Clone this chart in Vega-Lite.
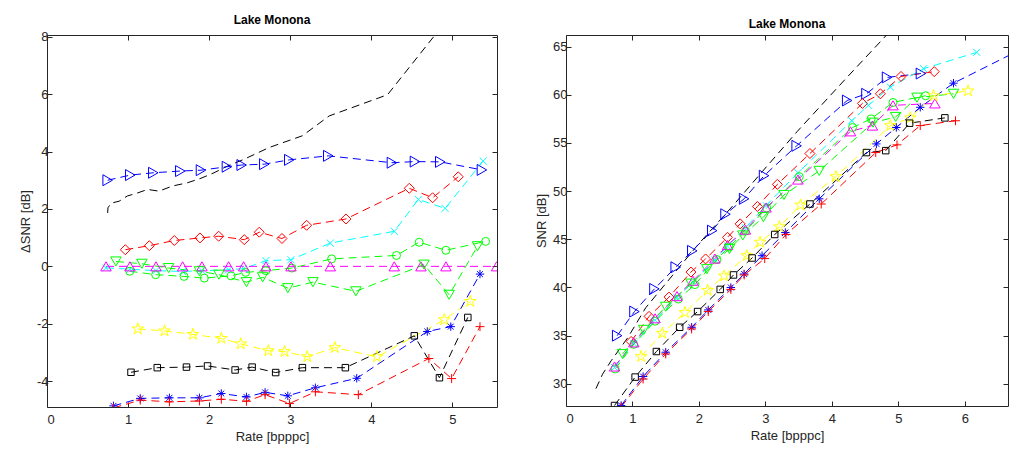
{
"$schema":"https://vega.github.io/schema/vega-lite/v6.json",
"padding":{"left":18,"top":13,"right":0,"bottom":0},
"spacing":37,
"config":{"view":{"stroke":"#262626","strokeWidth":1},
 "font":"Liberation Sans",
 "title":{"fontSize":12,"fontWeight":"bold","font":"Liberation Sans","color":"#000000","offset":0},
 "axis":{"grid":false,"domain":false,"labelFont":"Liberation Sans","titleFont":"Liberation Sans","labelFontSize":13,"titleFontSize":13,"titleFontWeight":"normal","labelColor":"#262626","titleColor":"#262626","tickColor":"#262626","tickSize":-5,"labelPadding":4},
 "axisX":{"labelPadding":11}},
"datasets":{
"dsnr":[
{"s":"k","x":0.748,"y":1.86},{"s":"k","x":0.752,"y":2.04},{"s":"k","x":0.79,"y":2.2},{"s":"k","x":0.89,"y":2.27},{"s":"k","x":0.99,"y":2.45},{"s":"k","x":1.12,"y":2.56},{"s":"k","x":1.24,"y":2.68},{"s":"k","x":1.38,"y":2.62},{"s":"k","x":1.55,"y":2.8},{"s":"k","x":1.73,"y":2.91},{"s":"k","x":1.9,"y":3.07},{"s":"k","x":2.06,"y":3.26},{"s":"k","x":2.23,"y":3.5},{"s":"k","x":2.43,"y":3.73},{"s":"k","x":2.74,"y":4.14},{"s":"k","x":3.15,"y":4.55},{"s":"k","x":3.48,"y":5.24},{"s":"k","x":4.2,"y":5.98},{"s":"k","x":4.78,"y":8.04},{"s":"k","x":5.0,"y":9.0},
{"s":"bT","x":0.748,"y":3.0},{"s":"bT","x":1.027,"y":3.18},{"s":"bT","x":1.311,"y":3.26},{"s":"bT","x":1.644,"y":3.32},{"s":"bT","x":1.899,"y":3.35},{"s":"bT","x":2.219,"y":3.47},{"s":"bT","x":2.401,"y":3.53},{"s":"bT","x":2.68,"y":3.56},{"s":"bT","x":2.988,"y":3.71},{"s":"bT","x":3.469,"y":3.85},{"s":"bT","x":4.254,"y":3.61},{"s":"bT","x":4.538,"y":3.65},{"s":"bT","x":4.85,"y":3.64},{"s":"bT","x":5.364,"y":3.36},
{"s":"rD","x":0.966,"y":0.58},{"s":"rD","x":1.262,"y":0.72},{"s":"rD","x":1.57,"y":0.9},{"s":"rD","x":1.887,"y":0.99},{"s":"rD","x":2.117,"y":1.05},{"s":"rD","x":2.433,"y":0.93},{"s":"rD","x":2.618,"y":1.19},{"s":"rD","x":2.898,"y":0.97},{"s":"rD","x":3.202,"y":1.43},{"s":"rD","x":3.687,"y":1.65},{"s":"rD","x":4.468,"y":2.72},{"s":"rD","x":4.756,"y":2.39},{"s":"rD","x":5.072,"y":3.12},
{"s":"cX","x":0.728,"y":-0.05},{"s":"cX","x":1.023,"y":-0.1},{"s":"cX","x":1.344,"y":-0.15},{"s":"cX","x":1.673,"y":-0.18},{"s":"cX","x":1.911,"y":-0.15},{"s":"cX","x":2.24,"y":-0.12},{"s":"cX","x":2.425,"y":-0.08},{"s":"cX","x":2.7,"y":0.2},{"s":"cX","x":3.009,"y":0.23},{"s":"cX","x":3.494,"y":0.81},{"s":"cX","x":4.283,"y":1.22},{"s":"cX","x":4.58,"y":2.33},{"s":"cX","x":4.91,"y":2.02},{"s":"cX","x":5.38,"y":3.67},
{"s":"gO","x":1.02,"y":-0.17},{"s":"gO","x":1.34,"y":-0.29},{"s":"gO","x":1.69,"y":-0.35},{"s":"gO","x":1.94,"y":-0.41},{"s":"gO","x":2.27,"y":-0.33},{"s":"gO","x":2.45,"y":-0.21},{"s":"gO","x":2.7,"y":-0.15},{"s":"gO","x":3.02,"y":-0.06},{"s":"gO","x":3.51,"y":0.26},{"s":"gO","x":4.31,"y":0.38},{"s":"gO","x":4.59,"y":0.84},{"s":"gO","x":4.92,"y":0.56},{"s":"gO","x":5.41,"y":0.87},
{"s":"mT","x":0.728,"y":0},{"s":"mT","x":1.023,"y":0},{"s":"mT","x":1.344,"y":0},{"s":"mT","x":1.673,"y":0},{"s":"mT","x":1.911,"y":0},{"s":"mT","x":2.24,"y":0},{"s":"mT","x":2.425,"y":0},{"s":"mT","x":2.7,"y":0},{"s":"mT","x":3.009,"y":0},{"s":"mT","x":3.494,"y":0},{"s":"mT","x":4.283,"y":0},{"s":"mT","x":4.612,"y":0},{"s":"mT","x":4.92,"y":0},{"s":"mT","x":5.545,"y":0},
{"s":"gV","x":0.85,"y":0.17},{"s":"gV","x":1.17,"y":0.09},{"s":"gV","x":1.5,"y":-0.06},{"s":"gV","x":1.88,"y":-0.17},{"s":"gV","x":2.12,"y":-0.29},{"s":"gV","x":2.46,"y":-0.55},{"s":"gV","x":2.66,"y":-0.38},{"s":"gV","x":2.97,"y":-0.76},{"s":"gV","x":3.28,"y":-0.55},{"s":"gV","x":3.81,"y":-0.87},{"s":"gV","x":4.65,"y":0.06},{"s":"gV","x":4.96,"y":-0.99},{"s":"gV","x":5.31,"y":0.7},
{"s":"yS","x":1.12,"y":-2.18},{"s":"yS","x":1.45,"y":-2.25},{"s":"yS","x":1.8,"y":-2.37},{"s":"yS","x":2.15,"y":-2.51},{"s":"yS","x":2.39,"y":-2.7},{"s":"yS","x":2.73,"y":-2.94},{"s":"yS","x":2.93,"y":-2.97},{"s":"yS","x":3.21,"y":-3.15},{"s":"yS","x":3.55,"y":-2.83},{"s":"yS","x":4.07,"y":-3.15},{"s":"yS","x":4.9,"y":-1.86},{"s":"yS","x":5.22,"y":-1.22},
{"s":"kS","x":1.036,"y":-3.69},{"s":"kS","x":1.36,"y":-3.53},{"s":"kS","x":1.72,"y":-3.51},{"s":"kS","x":1.98,"y":-3.47},{"s":"kS","x":2.32,"y":-3.61},{"s":"kS","x":2.53,"y":-3.51},{"s":"kS","x":2.82,"y":-3.7},{"s":"kS","x":3.15,"y":-3.53},{"s":"kS","x":3.68,"y":-3.53},{"s":"kS","x":4.53,"y":-2.42},{"s":"kS","x":4.84,"y":-3.88},{"s":"kS","x":5.19,"y":-1.78},
{"s":"bA","x":0.82,"y":-4.86},{"s":"bA","x":1.15,"y":-4.6},{"s":"bA","x":1.51,"y":-4.58},{"s":"bA","x":1.88,"y":-4.58},{"s":"bA","x":2.15,"y":-4.43},{"s":"bA","x":2.46,"y":-4.55},{"s":"bA","x":2.69,"y":-4.39},{"s":"bA","x":2.97,"y":-4.51},{"s":"bA","x":3.31,"y":-4.23},{"s":"bA","x":3.82,"y":-3.9},{"s":"bA","x":4.69,"y":-2.27},{"s":"bA","x":4.98,"y":-2.1},{"s":"bA","x":5.34,"y":-0.27},
{"s":"rP","x":0.82,"y":-4.93},{"s":"rP","x":1.15,"y":-4.66},{"s":"rP","x":1.51,"y":-4.72},{"s":"rP","x":1.88,"y":-4.69},{"s":"rP","x":2.15,"y":-4.63},{"s":"rP","x":2.46,"y":-4.7},{"s":"rP","x":2.69,"y":-4.47},{"s":"rP","x":2.99,"y":-4.78},{"s":"rP","x":3.31,"y":-4.37},{"s":"rP","x":3.84,"y":-4.47},{"s":"rP","x":4.71,"y":-3.21},{"s":"rP","x":4.99,"y":-3.91},{"s":"rP","x":5.34,"y":-2.1}
],
"snr":[
{"s":"k","x":0.45,"y":29.5},{"s":"k","x":0.55,"y":31.0},{"s":"k","x":0.68,"y":32.4},{"s":"k","x":0.93,"y":34.8},{"s":"k","x":1.2,"y":37.9},{"s":"k","x":1.5,"y":40.4},{"s":"k","x":1.98,"y":44.4},{"s":"k","x":2.5,"y":48.4},{"s":"k","x":2.95,"y":52.0},{"s":"k","x":3.48,"y":56.2},{"s":"k","x":4.2,"y":61.6},{"s":"k","x":4.81,"y":66.1},{"s":"k","x":5.1,"y":68.3},
{"s":"bT","x":0.77,"y":35.0},{"s":"bT","x":1.03,"y":37.5},{"s":"bT","x":1.33,"y":39.85},{"s":"bT","x":1.65,"y":42.1},{"s":"bT","x":1.9,"y":43.8},{"s":"bT","x":2.2,"y":45.9},{"s":"bT","x":2.4,"y":47.6},{"s":"bT","x":2.68,"y":49.2},{"s":"bT","x":2.98,"y":51.6},{"s":"bT","x":3.47,"y":54.7},{"s":"bT","x":4.23,"y":59.4},{"s":"bT","x":4.52,"y":60.1},{"s":"bT","x":4.83,"y":61.8},{"s":"bT","x":5.34,"y":62.2},
{"s":"rD","x":0.98,"y":34.4},{"s":"rD","x":1.25,"y":37.0},{"s":"rD","x":1.55,"y":39.0},{"s":"rD","x":1.88,"y":41.6},{"s":"rD","x":2.1,"y":42.96},{"s":"rD","x":2.43,"y":45.2},{"s":"rD","x":2.62,"y":46.6},{"s":"rD","x":2.88,"y":48.4},{"s":"rD","x":3.18,"y":50.7},{"s":"rD","x":3.67,"y":53.9},{"s":"rD","x":4.46,"y":59.1},{"s":"rD","x":4.73,"y":60.1},{"s":"rD","x":5.04,"y":61.9},{"s":"rD","x":5.54,"y":62.4},
{"s":"cX","x":0.73,"y":31.7},{"s":"cX","x":1.02,"y":34.2},{"s":"cX","x":1.34,"y":36.6},{"s":"cX","x":1.67,"y":38.95},{"s":"cX","x":1.91,"y":40.55},{"s":"cX","x":2.24,"y":42.85},{"s":"cX","x":2.43,"y":44.3},{"s":"cX","x":2.7,"y":46.2},{"s":"cX","x":3.01,"y":48.5},{"s":"cX","x":3.49,"y":51.9},{"s":"cX","x":4.3,"y":57.3},{"s":"cX","x":4.55,"y":58.9},{"s":"cX","x":4.88,"y":60.8},{"s":"cX","x":5.38,"y":62.7},{"s":"cX","x":6.18,"y":64.4},
{"s":"gO","x":0.74,"y":31.55},{"s":"gO","x":1.02,"y":34.1},{"s":"gO","x":1.34,"y":36.5},{"s":"gO","x":1.69,"y":38.8},{"s":"gO","x":1.94,"y":40.3},{"s":"gO","x":2.27,"y":42.9},{"s":"gO","x":2.45,"y":44.2},{"s":"gO","x":2.7,"y":45.85},{"s":"gO","x":3.02,"y":48.25},{"s":"gO","x":3.51,"y":51.5},{"s":"gO","x":4.31,"y":56.6},{"s":"gO","x":4.59,"y":57.5},{"s":"gO","x":4.92,"y":59.2},{"s":"gO","x":5.41,"y":59.9},
{"s":"mT","x":0.73,"y":31.8},{"s":"mT","x":1.02,"y":34.3},{"s":"mT","x":1.34,"y":36.8},{"s":"mT","x":1.67,"y":39.1},{"s":"mT","x":1.91,"y":40.7},{"s":"mT","x":2.24,"y":43.0},{"s":"mT","x":2.43,"y":44.4},{"s":"mT","x":2.7,"y":46.0},{"s":"mT","x":3.01,"y":48.3},{"s":"mT","x":3.49,"y":51.2},{"s":"mT","x":4.28,"y":56.2},{"s":"mT","x":4.61,"y":56.8},{"s":"mT","x":4.92,"y":58.9},{"s":"mT","x":5.55,"y":59.1},
{"s":"gV","x":0.85,"y":33.1},{"s":"gV","x":1.17,"y":35.6},{"s":"gV","x":1.5,"y":38.0},{"s":"gV","x":1.88,"y":40.4},{"s":"gV","x":2.12,"y":41.9},{"s":"gV","x":2.46,"y":44.0},{"s":"gV","x":2.66,"y":45.4},{"s":"gV","x":2.97,"y":47.3},{"s":"gV","x":3.28,"y":49.6},{"s":"gV","x":3.81,"y":52.1},{"s":"gV","x":4.62,"y":57.1},{"s":"gV","x":4.96,"y":57.7},{"s":"gV","x":5.28,"y":59.7},{"s":"gV","x":5.83,"y":60.1},
{"s":"yS","x":1.13,"y":32.83},{"s":"yS","x":1.45,"y":35.25},{"s":"yS","x":1.79,"y":37.4},{"s":"yS","x":2.13,"y":39.7},{"s":"yS","x":2.38,"y":41.2},{"s":"yS","x":2.72,"y":43.3},{"s":"yS","x":2.92,"y":44.7},{"s":"yS","x":3.21,"y":46.3},{"s":"yS","x":3.53,"y":48.56},{"s":"yS","x":4.06,"y":51.5},{"s":"yS","x":4.88,"y":56.8},{"s":"yS","x":5.18,"y":57.6},{"s":"yS","x":5.53,"y":59.9},{"s":"yS","x":6.05,"y":60.4},
{"s":"kS","x":0.73,"y":27.75},{"s":"kS","x":1.04,"y":30.7},{"s":"kS","x":1.36,"y":33.35},{"s":"kS","x":1.71,"y":35.87},{"s":"kS","x":1.98,"y":37.5},{"s":"kS","x":2.32,"y":39.8},{"s":"kS","x":2.52,"y":41.3},{"s":"kS","x":2.8,"y":43.06},{"s":"kS","x":3.14,"y":45.5},{"s":"kS","x":3.67,"y":48.66},{"s":"kS","x":4.52,"y":54.0},{"s":"kS","x":4.81,"y":54.2},{"s":"kS","x":5.17,"y":57.05},{"s":"kS","x":5.7,"y":57.6},
{"s":"bA","x":0.83,"y":27.75},{"s":"bA","x":1.16,"y":30.76},{"s":"bA","x":1.5,"y":33.28},{"s":"bA","x":1.89,"y":35.87},{"s":"bA","x":2.14,"y":37.67},{"s":"bA","x":2.48,"y":40.0},{"s":"bA","x":2.68,"y":41.4},{"s":"bA","x":2.95,"y":43.3},{"s":"bA","x":3.3,"y":45.7},{"s":"bA","x":3.81,"y":49.2},{"s":"bA","x":4.67,"y":54.9},{"s":"bA","x":4.97,"y":56.6},{"s":"bA","x":5.33,"y":58.7},{"s":"bA","x":5.83,"y":61.2},{"s":"bA","x":6.9,"y":64.9},
{"s":"rP","x":0.83,"y":27.6},{"s":"rP","x":1.16,"y":30.5},{"s":"rP","x":1.5,"y":33.1},{"s":"rP","x":1.89,"y":35.7},{"s":"rP","x":2.14,"y":37.5},{"s":"rP","x":2.48,"y":39.8},{"s":"rP","x":2.68,"y":41.3},{"s":"rP","x":2.99,"y":43.0},{"s":"rP","x":3.31,"y":45.5},{"s":"rP","x":3.84,"y":48.66},{"s":"rP","x":4.66,"y":54.0},{"s":"rP","x":4.98,"y":54.8},{"s":"rP","x":5.33,"y":56.8},{"s":"rP","x":5.86,"y":57.3}
]},
"hconcat":[
{"width":450,"height":372,"title":"Lake Monona",
 "layer":[
  {"data":{"name":"dsnr"},"mark":{"type":"line","strokeDash":[8,5],"strokeWidth":1,"clip":true},
   "encoding":{
    "x":{"field":"x","type":"quantitative","scale":{"domain":[0,5.55],"nice":false,"zero":false},"axis":{"values":[0,1,2,3,4,5],"title":"Rate [bpppc]"}},
    "y":{"field":"y","type":"quantitative","scale":{"domain":[-4.9,8.06],"nice":false,"zero":false},"axis":{"values":[-4,-2,0,2,4,6,8],"title":"ΔSNR [dB]","labelExpr":"''+datum.value"}},
    "color":{"field":"s","type":"nominal","scale":{"domain":["k","bT","rD","cX","gO","mT","gV","yS","kS","bA","rP"],"range":["#000000","#0000ff","#ff0000","#00ffff","#00ff00","#ff00ff","#00ff00","#ffff00","#000000","#0000ff","#ff0000"]},"legend":null}}},
  {"data":{"name":"dsnr"},"transform":[{"filter":"datum.s !== 'k'"}],"mark":{"type":"point","filled":false,"strokeWidth":1,"clip":true,"opacity":1},
   "encoding":{
    "x":{"field":"x","type":"quantitative","axis":null},
    "y":{"field":"y","type":"quantitative","axis":null},
    "color":{"field":"s","type":"nominal","legend":null},
    "shape":{"field":"s","type":"nominal","scale":{"domain":["k","bT","rD","cX","gO","mT","gV","yS","kS","bA","rP"],"range":["circle","triangle-right","diamond","M-1,-1L1,1M-1,1L1,-1","circle","triangle-up","triangle-down","M0,-1L0.225,-0.309L0.951,-0.309L0.363,0.118L0.588,0.809L0,0.382L-0.588,0.809L-0.363,0.118L-0.951,-0.309L-0.225,-0.309Z","square","M-1,0H1M0,-1V1M-0.7,-0.7L0.7,0.7M-0.7,0.7L0.7,-0.7","M-1,0H1M0,-1V1"]},"legend":null},
    "size":{"field":"s","type":"nominal","scale":{"type":"ordinal","domain":["k","bT","rD","cX","gO","mT","gV","yS","kS","bA","rP"],"range":[10,120,100,50,64,110,110,150,42,70,80]},"legend":null}}},
  {"data":{"values":[{"x":0,"y":0}]},"mark":{"type":"point","opacity":0},
   "encoding":{
    "x":{"field":"x","type":"quantitative","axis":{"orient":"top","labels":false,"title":null,"values":[0,1,2,3,4,5]}},
    "y":{"field":"y","type":"quantitative","axis":{"orient":"right","labels":false,"title":null,"values":[-4,-2,0,2,4,6,8]}}}}
 ],
 "resolve":{"axis":{"x":"independent","y":"independent"}}},
{"width":442,"height":371,"title":"Lake Monona",
 "layer":[
  {"data":{"name":"snr"},"mark":{"type":"line","strokeDash":[8,5],"strokeWidth":1,"clip":true},
   "encoding":{
    "x":{"field":"x","type":"quantitative","scale":{"domain":[0,6.65],"nice":false,"zero":false},"axis":{"values":[0,1,2,3,4,5,6],"title":"Rate [bpppc]"}},
    "y":{"field":"y","type":"quantitative","scale":{"domain":[27.7,66.2],"nice":false,"zero":false},"axis":{"values":[30,35,40,45,50,55,60,65],"title":"SNR [dB]"}},
    "color":{"field":"s","type":"nominal","scale":{"domain":["k","bT","rD","cX","gO","mT","gV","yS","kS","bA","rP"],"range":["#000000","#0000ff","#ff0000","#00ffff","#00ff00","#ff00ff","#00ff00","#ffff00","#000000","#0000ff","#ff0000"]},"legend":null}}},
  {"data":{"name":"snr"},"transform":[{"filter":"datum.s !== 'k'"}],"mark":{"type":"point","filled":false,"strokeWidth":1,"clip":true,"opacity":1},
   "encoding":{
    "x":{"field":"x","type":"quantitative","axis":null},
    "y":{"field":"y","type":"quantitative","axis":null},
    "color":{"field":"s","type":"nominal","legend":null},
    "shape":{"field":"s","type":"nominal","scale":{"domain":["k","bT","rD","cX","gO","mT","gV","yS","kS","bA","rP"],"range":["circle","triangle-right","diamond","M-1,-1L1,1M-1,1L1,-1","circle","triangle-up","triangle-down","M0,-1L0.225,-0.309L0.951,-0.309L0.363,0.118L0.588,0.809L0,0.382L-0.588,0.809L-0.363,0.118L-0.951,-0.309L-0.225,-0.309Z","square","M-1,0H1M0,-1V1M-0.7,-0.7L0.7,0.7M-0.7,0.7L0.7,-0.7","M-1,0H1M0,-1V1"]},"legend":null},
    "size":{"field":"s","type":"nominal","scale":{"type":"ordinal","domain":["k","bT","rD","cX","gO","mT","gV","yS","kS","bA","rP"],"range":[10,120,100,50,64,110,110,150,42,70,80]},"legend":null}}},
  {"data":{"values":[{"x":0,"y":30}]},"mark":{"type":"point","opacity":0},
   "encoding":{
    "x":{"field":"x","type":"quantitative","axis":{"orient":"top","labels":false,"title":null,"values":[0,1,2,3,4,5,6]}},
    "y":{"field":"y","type":"quantitative","axis":{"orient":"right","labels":false,"title":null,"values":[30,35,40,45,50,55,60,65]}}}}
 ],
 "resolve":{"axis":{"x":"independent","y":"independent"}}}
],
"resolve":{"scale":{"color":"independent","shape":"independent","size":"independent"}}
}
